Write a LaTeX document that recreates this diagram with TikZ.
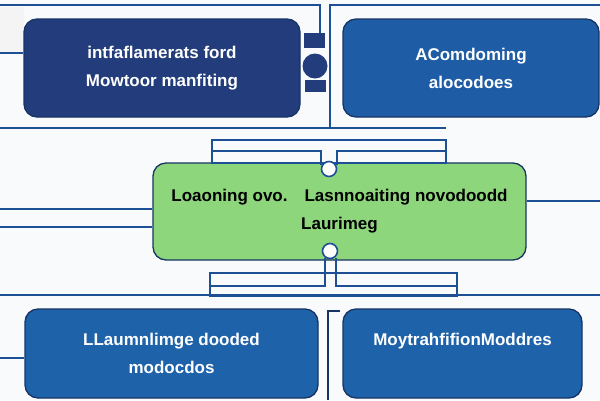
\documentclass[tikz,border=0pt]{standalone}
\usepackage{fontspec}
\setmainfont{Liberation Sans}
\definecolor{navy}{RGB}{35,60,123}
\definecolor{midblue}{RGB}{30,93,166}
\definecolor{lowblue}{RGB}{30,98,170}
\definecolor{leaf}{RGB}{142,214,124}
\definecolor{linec}{RGB}{29,79,149}
\definecolor{edgec}{RGB}{24,52,100}
\definecolor{bg}{RGB}{249,250,252}
\begin{document}
\begin{tikzpicture}[x=1pt,y=-1pt,
  box/.style={rounded corners=13pt, draw=edgec, line width=1.3pt, align=center,
    font=\fontsize{17}{28}\selectfont\bfseries, inner sep=0pt},
  wirel/.style={draw=linec, line width=1.6pt},
  notch/.style={circle, draw=linec, fill=white, line width=1.6pt, minimum size=15pt, inner sep=0pt}]
\fill[bg] (0,0) rectangle (600,400);
\useasboundingbox (0,0) rectangle (600,400);
\fill[gray!9] (0,7) rectangle (24,53);
% boxes
\node[box, fill=navy, text=white, minimum width=276pt, minimum height=98pt] (tl) at (162,68) {intfaflamerats ford\\Mowtoor manfiting};
\node[box, fill=midblue, text=white, minimum width=256pt, minimum height=98pt] (tr) at (471,68) {AComdoming\\alocodoes};
\node[box, fill=leaf, text=black, minimum width=373pt, minimum height=97pt] (gc) at (339.5,211.5) {Loaoning ovo.\quad Lasnnoaiting novodoodd\\Laurimeg};
\node[box, fill=lowblue, text=white, minimum width=293pt, minimum height=89pt] (bl) at (171.5,353.5) {LLaumnlimge dooded\\modocdos};
\node[box, fill=lowblue, text=white, minimum width=239pt, minimum height=89pt] (br) at (462.5,353.5) {MoytrahfifionModdres\\\mbox{}};
% top frame lines
\coordinate (t0) at (0,5);
\coordinate (t1) at (320,5);
\coordinate (t2) at (330,5);
\coordinate (t3) at (600,5);
\coordinate (t4) at (330,128);
\node[fill=navy, minimum width=21pt, minimum height=15pt, inner sep=0pt] (sq1) at (314.5,40.5) {};
\node[circle, fill=navy, minimum size=25pt, inner sep=0pt] (cr1) at (315,66) {};
\node[fill=navy, minimum width=21pt, minimum height=12pt, inner sep=0pt] (sq2) at (315.5,86) {};
\draw[wirel] (t0) -- (t1) -- (t1 |- sq1.north);
\draw[wirel] (t4) -- (t2) -- (t3);
\coordinate (b0) at (0,128);
\coordinate (b1) at (446,128);
\draw[wirel] (b0) -- (b1);
\coordinate (l0) at (0,53);
\draw[wirel] (l0) -- (tl.west |- l0);
% upper connector into green box
\coordinate (ua) at (212,140);
\coordinate (ub) at (446,163);
\draw[wirel] (ua) rectangle (ub);
\draw[wirel] (212,151) -- (321,151) -- (321,165);
\draw[wirel] (446,151) -- (337,151) -- (337,165);
\node[notch] (n1) at (329,169) {};
% green box side lines
\coordinate (g1) at (0,209);
\coordinate (g2) at (0,227);
\coordinate (g3) at (600,201);
\draw[wirel] (g1) -- (gc.west |- g1);
\draw[wirel] (g2) -- (gc.west |- g2);
\draw[wirel] (gc.east |- g3) -- (g3);
% lower connector
\node[notch] (n2) at (330,251) {};
\coordinate (la) at (210,273);
\coordinate (lb) at (457,296);
\draw[wirel] (la) rectangle (lb);
\draw[wirel] (210,286) -- (325,286) -- (325,258);
\draw[wirel] (457,286) -- (336,286) -- (336,258);
\coordinate (h0) at (0,295);
\coordinate (h1) at (600,295);
\draw[wirel] (h0) -- (h1);
\coordinate (bl0) at (0,358);
\draw[wirel] (bl0) -- (bl.west |- bl0);
% bracket
\coordinate (k0) at (340,311);
\coordinate (k1) at (328,400);
\draw[draw=edgec, line width=1.6pt] (k0) -- (k1 |- k0) -- (k1);
\end{tikzpicture}
\end{document}
